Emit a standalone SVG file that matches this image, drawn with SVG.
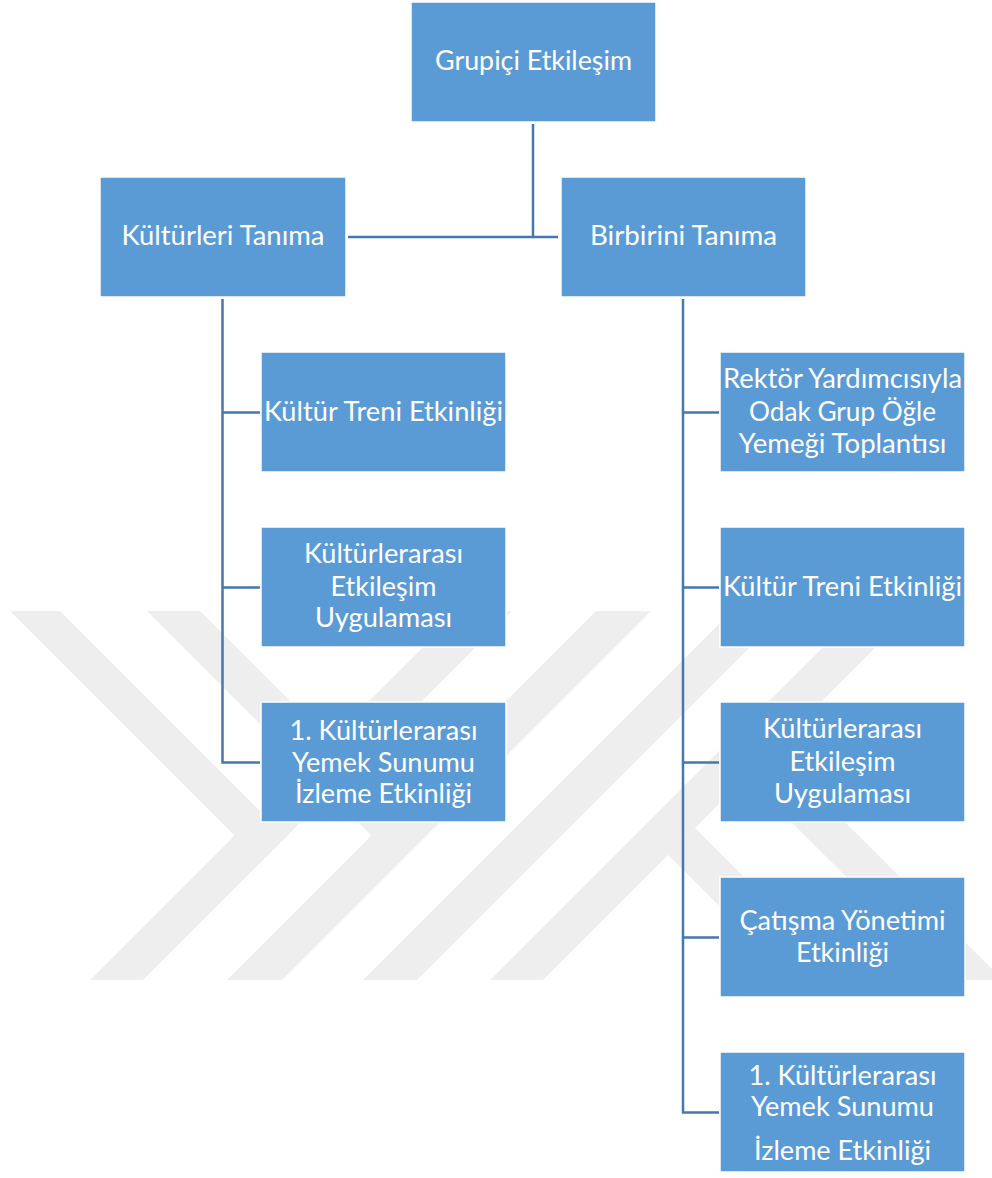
<svg xmlns="http://www.w3.org/2000/svg" width="992" height="1178" viewBox="0 0 992 1178">
<style>
.box{fill:#5B9BD5;stroke:#FFFFFF;stroke-width:1.5}
.lbl{font-family:Lato,"Liberation Sans",sans-serif;font-size:26px;fill:#FFFFFF;text-anchor:middle}
.conn{stroke:#4677AE;stroke-width:2.5;fill:none}
.wm{fill:#EEEEEE}
</style>
<defs>
<clipPath id="wmclip"><rect x="0" y="611" width="992" height="369"/></clipPath>
</defs>
<rect width="992" height="1178" fill="#FFFFFF"/>
<g id="watermark" clip-path="url(#wmclip)">
<polygon class="wm" points="-1,600 49,600 286,837 261,862"/>
<polygon class="wm" points="136,600 189,600 425,836 399,863"/>
<polygon class="wm" points="470,600 523,600 133,990 80,990"/>
<polygon class="wm" points="607,600 662,600 272,990 217,990"/>
<polygon class="wm" points="743,600 797,600 407,990 353,990"/>
<polygon class="wm" points="870,600 923,600 533,990 480,990"/>
<polygon class="wm" points="695,828 857,990 804,990 668,855"/>
<polygon class="wm" points="773,750 1013,990 960,990 746,777"/>
</g>
<g id="connectors">
<path class="conn" d="M533,124 V237 M348,237 H558"/>
<path class="conn" d="M222.5,299 V762.5 H260 M222.5,412.5 H260 M222.5,587.5 H260"/>
<path class="conn" d="M683,299 V1112.5 H719 M683,412.5 H719 M683,587.5 H719 M683,762.5 H719 M683,937.5 H719"/>
</g>
<g id="n-root">
<rect class="box" x="411" y="2" width="245" height="120"/>
<text class="lbl" x="533.5" y="70" textLength="197" lengthAdjust="spacingAndGlyphs">Grupiçi Etkileşim</text>
</g>
<g id="n-kulturleri">
<rect class="box" x="100" y="177" width="246" height="120"/>
<text class="lbl" x="223" y="245" textLength="203" lengthAdjust="spacingAndGlyphs">Kültürleri Tanıma</text>
</g>
<g id="n-birbirini">
<rect class="box" x="561" y="177" width="245" height="120"/>
<text class="lbl" x="683.5" y="245" textLength="187" lengthAdjust="spacingAndGlyphs">Birbirini Tanıma</text>
</g>
<g id="n-l1">
<rect class="box" x="261" y="352" width="245" height="120"/>
<text class="lbl" x="383.5" y="421" textLength="239" lengthAdjust="spacingAndGlyphs">Kültür Treni Etkinliği</text>
</g>
<g id="n-l2">
<rect class="box" x="261" y="527" width="245" height="120"/>
<text class="lbl" x="383.5" y="563" textLength="159" lengthAdjust="spacingAndGlyphs">Kültürlerarası</text>
<text class="lbl" x="383.5" y="596" textLength="106" lengthAdjust="spacingAndGlyphs">Etkileşim</text>
<text class="lbl" x="383.5" y="627" textLength="137" lengthAdjust="spacingAndGlyphs">Uygulaması</text>
</g>
<g id="n-l3">
<rect class="box" x="261" y="702" width="245" height="120"/>
<text class="lbl" x="383.5" y="740" textLength="188" lengthAdjust="spacingAndGlyphs">1. Kültürlerarası</text>
<text class="lbl" x="383.5" y="772" textLength="183" lengthAdjust="spacingAndGlyphs">Yemek Sunumu</text>
<text class="lbl" x="383.5" y="803" textLength="177" lengthAdjust="spacingAndGlyphs">İzleme Etkinliği</text>
</g>
<g id="n-r1">
<rect class="box" x="720" y="352" width="245" height="120"/>
<text class="lbl" x="842.5" y="388" textLength="239" lengthAdjust="spacingAndGlyphs">Rektör Yardımcısıyla</text>
<text class="lbl" x="842.5" y="421" textLength="187" lengthAdjust="spacingAndGlyphs">Odak Grup Öğle</text>
<text class="lbl" x="842.5" y="453" textLength="208" lengthAdjust="spacingAndGlyphs">Yemeği Toplantısı</text>
</g>
<g id="n-r2">
<rect class="box" x="720" y="527" width="245" height="120"/>
<text class="lbl" x="842.5" y="596" textLength="239" lengthAdjust="spacingAndGlyphs">Kültür Treni Etkinliği</text>
</g>
<g id="n-r3">
<rect class="box" x="720" y="702" width="245" height="120"/>
<text class="lbl" x="842.5" y="738" textLength="159" lengthAdjust="spacingAndGlyphs">Kültürlerarası</text>
<text class="lbl" x="842.5" y="771" textLength="106" lengthAdjust="spacingAndGlyphs">Etkileşim</text>
<text class="lbl" x="842.5" y="803" textLength="137" lengthAdjust="spacingAndGlyphs">Uygulaması</text>
</g>
<g id="n-r4">
<rect class="box" x="720" y="877" width="245" height="120"/>
<text class="lbl" x="842.5" y="930" textLength="206" lengthAdjust="spacingAndGlyphs">Çatışma Yönetimi</text>
<text class="lbl" x="842.5" y="962" textLength="93" lengthAdjust="spacingAndGlyphs">Etkinliği</text>
</g>
<g id="n-r5">
<rect class="box" x="720" y="1052" width="245" height="120"/>
<text class="lbl" x="842.5" y="1085" textLength="188" lengthAdjust="spacingAndGlyphs">1. Kültürlerarası</text>
<text class="lbl" x="842.5" y="1116" textLength="183" lengthAdjust="spacingAndGlyphs">Yemek Sunumu</text>
<text class="lbl" x="842.5" y="1160" textLength="177" lengthAdjust="spacingAndGlyphs">İzleme Etkinliği</text>
</g>
</svg>
